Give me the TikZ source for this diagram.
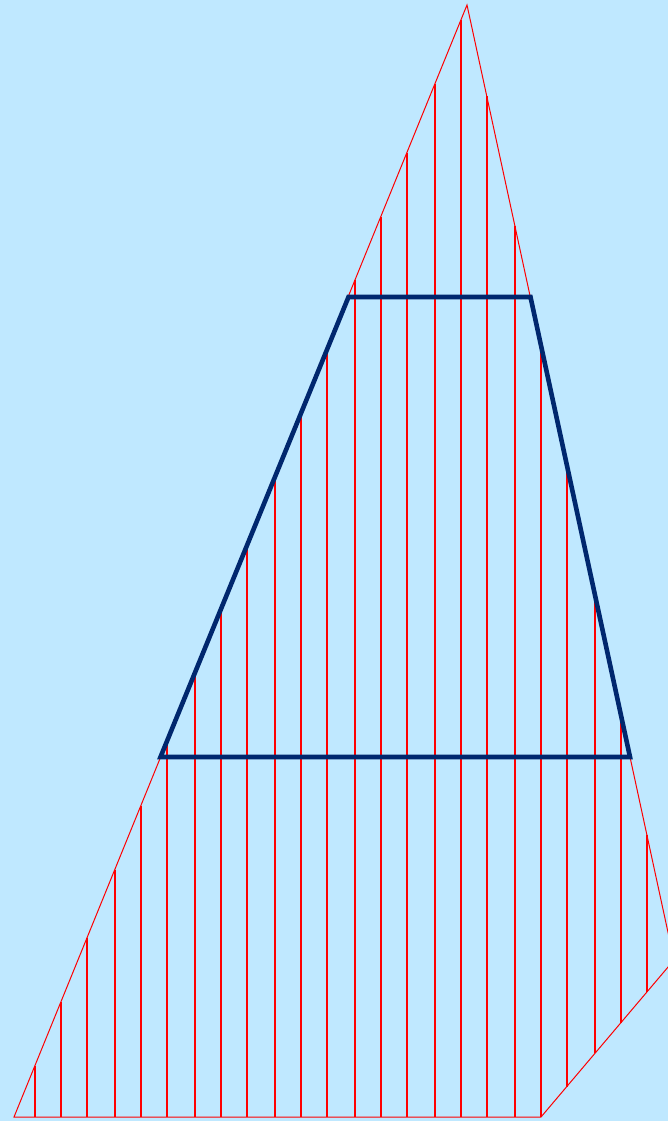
\documentclass[tikz,border=0pt]{standalone}
\definecolor{bg}{HTML}{BFE8FF}
\definecolor{navy}{HTML}{00276E}
\begin{document}
\begin{tikzpicture}[x=1pt,y=-1pt,
  redline/.style={red,line width=1pt},
  vline/.style={red,line width=1.4pt},
  navyline/.style={navy,line width=4.6pt,line join=miter}]
\fill[bg] (0,0) rectangle (668,1121);
\useasboundingbox (0,0) rectangle (668,1121);
\clip (0,0) rectangle (668,1121);
\coordinate (apex) at (467,5);
\coordinate (bl) at (14,1117);
\coordinate (br) at (541,1117);
\coordinate (rc) at (674,960);
\foreach \k in {1,...,24}{
  \pgfmathsetmacro{\xx}{2*floor((34+26.67*(\k-1))/2)+0.8}
  \pgfmathsetmacro{\yt}{\xx<467 ? 5+(467-\xx)/453*1112 : 5+(\xx-467)/163*752}
  \pgfmathsetmacro{\yb}{\xx<=541.5 ? 1117 : 1117-(\xx-541)/127*150}
  \draw[vline] (\xx,\yt) -- (\xx,\yb);
}
\draw[redline,line join=miter] (apex) -- (bl) -- (br) -- (rc) -- cycle;
\coordinate (tl) at (348.5,297);
\coordinate (tr) at (530.5,297);
\coordinate (pr) at (630,757);
\coordinate (pl) at (160.5,757);
\draw[navyline] (tl) -- (tr) -- (pr) -- (pl) -- cycle;
\end{tikzpicture}
\end{document}
